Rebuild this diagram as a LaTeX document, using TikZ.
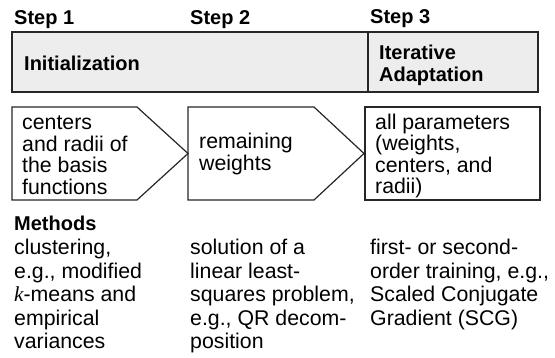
\documentclass[tikz,border=0pt]{standalone}
\usepackage{fontspec}
\setmainfont{Liberation Sans}
\newfontfamily\kfont{Liberation Serif}
\begin{document}
\begin{tikzpicture}[x=1pt,y=-1pt,
  shapeline/.style={draw=black!85,line width=1.2pt,line join=miter},
  head/.style={anchor=base west,inner sep=0pt,align=left,font=\fontsize{20}{22.5}\selectfont\bfseries},
  boxtxt/.style={anchor=base west,inner sep=0pt,align=left,font=\fontsize{21.3}{21.6}\selectfont},
  methtxt/.style={anchor=base west,inner sep=0pt,align=left,font=\fontsize{21.3}{23.6}\selectfont}]
\useasboundingbox (0,0) rectangle (555,358);
% top bar
\draw[shapeline,fill=black!7] (12,32) rectangle (538,92);
\draw[shapeline] (368,32) -- (368,92);
% lower boxes
\draw[shapeline] (12,107) -- (137,107) -- (188,153.5) -- (137,200) -- (12,200) -- cycle;
\draw[shapeline] (188,107) -- (314,107) -- (364,153.5) -- (314,200) -- (188,200) -- cycle;
\draw[shapeline] (365,107) rectangle (540,200);
% headings (multi-line nodes are anchored at their last baseline)
\node[head] (s1) at (14,24.5) {Step 1};
\node[head] (s2) at (190,24.5) {Step 2};
\node[head] (s3) at (370,24) {Step 3};
\node[head] (init) at (24,71) {Initialization};
\node[head] (iter) at (379,82) {Iterative\\Adaptation};
% box texts
\node[boxtxt] (b1) at (22,194.5) {centers\\and radii of\\the basis\\functions};
\node[boxtxt] (b2) at (199,170.5) {remaining\\weights};
\node[boxtxt] (b3) at (375,194) {all parameters\\(weights,\\centers, and\\radii)};
% methods
\node[head] (meth) at (14,231) {Methods};
\node[methtxt] (m1) at (14,349) {clustering,\\e.g., modified\\{\kfont\itshape k}-means and\\empirical\\variances};
\node[methtxt] (m2) at (190,349) {solution of a\\linear least-\\squares problem,\\e.g., QR decom-\\position};
\node[methtxt] (m3) at (370,325.4) {first- or second-\\order training, e.g.,\\Scaled Conjugate\\Gradient (SCG)};
\end{tikzpicture}
\end{document}
